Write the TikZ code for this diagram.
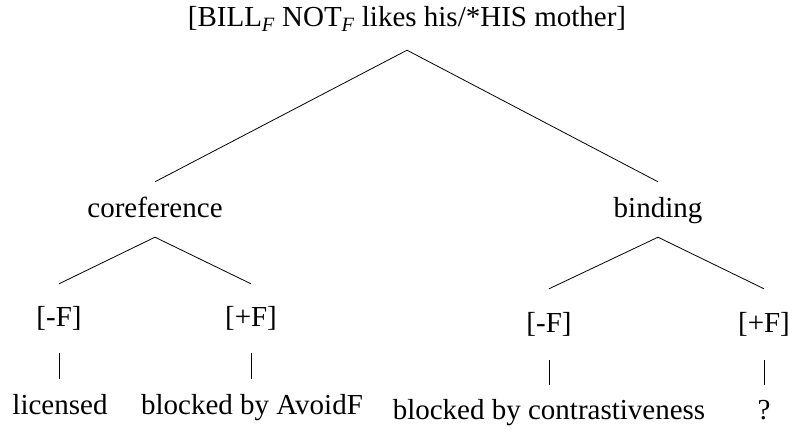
\documentclass[tikz,border=0pt]{standalone}
\usepackage{fontspec}
\setmainfont{Liberation Serif}
\begin{document}
\begin{tikzpicture}[x=1pt,y=-1pt,
  lbl/.style={font=\fontsize{29}{34}\selectfont, inner sep=0pt, anchor=base,
              text height=20pt, text depth=7pt},
  edge/.style={draw=black, line width=0.8pt}]
\useasboundingbox (0,0) rectangle (793,433);
% nodes
\node[lbl] (root) at (407,27) {[BILL\textsubscript{\itshape F} NOT\textsubscript{\itshape F} likes his/*HIS mother]};
\node[lbl] (coref) at (155,218) {coreference};
\node[lbl] (bind) at (658,218) {binding};
\node[lbl] (cm) at (59,326) {[-F]};
\node[lbl] (cp) at (251,326) {[+F]};
\node[lbl] (bm) at (549,332) {[-F]};
\node[lbl] (bp) at (764,332) {[+F]};
\node[lbl] (l1) at (60,414) {licensed};
\node[lbl] (l2) at (252,414) {blocked by AvoidF};
\node[lbl] (l3) at (549,419) {blocked by contrastiveness};
\node[lbl] (l4) at (764,419) {?};
% connectors
\draw[edge] ([yshift=-16pt]root.south) -- ([yshift=16pt]coref.north);
\draw[edge] ([yshift=-16pt]root.south) -- ([yshift=16pt]bind.north);
\draw[edge] ([yshift=-12pt]coref.south) -- ([yshift=22pt]cm.north);
\draw[edge] ([yshift=-12pt]coref.south) -- ([yshift=22pt]cp.north);
\draw[edge] ([yshift=-12pt]bind.south) -- ([yshift=23pt]bm.north);
\draw[edge] ([yshift=-12pt]bind.south) -- ([yshift=23pt]bp.north);
\draw[edge] ([yshift=-20pt]cm.south) -- ([yshift=15pt]cm.south |- l1.north);
\draw[edge] ([yshift=-20pt]cp.south) -- ([yshift=15pt]cp.south |- l2.north);
\draw[edge] ([yshift=-21pt]bm.south) -- ([yshift=14pt]bm.south |- l3.north);
\draw[edge] ([yshift=-21pt]bp.south) -- ([yshift=14pt]bp.south |- l4.north);
\end{tikzpicture}
\end{document}
